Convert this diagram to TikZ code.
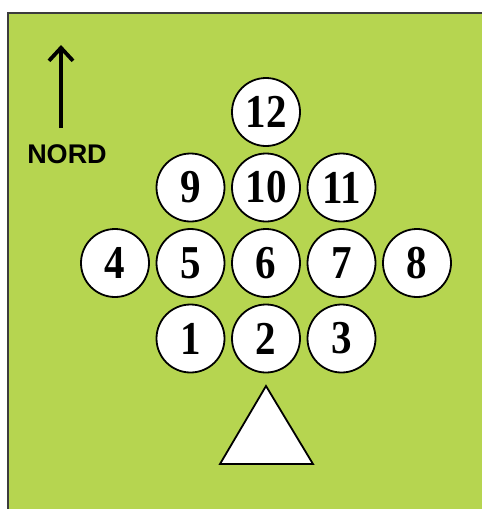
\documentclass[tikz,border=0pt]{standalone}
\usepackage{fontspec}
\setmainfont{Liberation Serif}
\newfontfamily\nordfont{Liberation Sans}
\usepackage{tikz}
\usetikzlibrary{positioning,arrows.meta}
\definecolor{FieldGreen}{RGB}{182,213,80}
\definecolor{EdgeGray}{RGB}{60,60,60}
\newcommand{\posnum}[1]{\scalebox{1}[1.15]{#1}}

\begin{document}
\begin{tikzpicture}[
    x=1pt, y=-1pt,
    node distance=75.5pt, on grid,
    spot/.style={circle, draw=black, line width=1.8pt, fill=white, inner sep=0pt,
        minimum size=68pt, font=\fontsize{41}{41}\selectfont\bfseries},
]
\useasboundingbox (0,0) rectangle (482,509);
% field
\fill[FieldGreen] (8,13) rectangle (495,520);
\draw[EdgeGray, line width=2pt] (8,520) -- (8,13) -- (495,13);

% north marker
\node[font=\nordfont\fontsize{27}{27}\selectfont\bfseries, anchor=base] (nord) at (67,163) {NORD};
\coordinate (ntail) at (61,128);
\coordinate (nhead) at (61,45);
\draw[line width=3.8pt, -{Straight Barb[length=13pt,width=24pt]}] (ntail) -- (nhead);

% positions
\node[spot] (p6) at (266,263) {\posnum{6}};
\node[spot, left=of p6] (p5) {\posnum{5}};
\node[spot, left=of p5] (p4) {\posnum{4}};
\node[spot, right=of p6] (p7) {\posnum{7}};
\node[spot, right=of p7] (p8) {\posnum{8}};
\node[spot, above=of p6] (p10) {\posnum{10}};
\node[spot, left=of p10] (p9) {\posnum{9}};
\node[spot, right=of p10] (p11) {\posnum{11}};
\node[spot, above=of p10] (p12) {\posnum{12}};
\node[spot, below=of p6] (p2) {\posnum{2}};
\node[spot, left=of p2] (p1) {\posnum{1}};
\node[spot, right=of p2] (p3) {\posnum{3}};

% stand
\draw[line width=1.8pt, fill=white, line join=miter] (266,386) -- (313,464) -- (220,464) -- cycle;
\end{tikzpicture}
\end{document}
